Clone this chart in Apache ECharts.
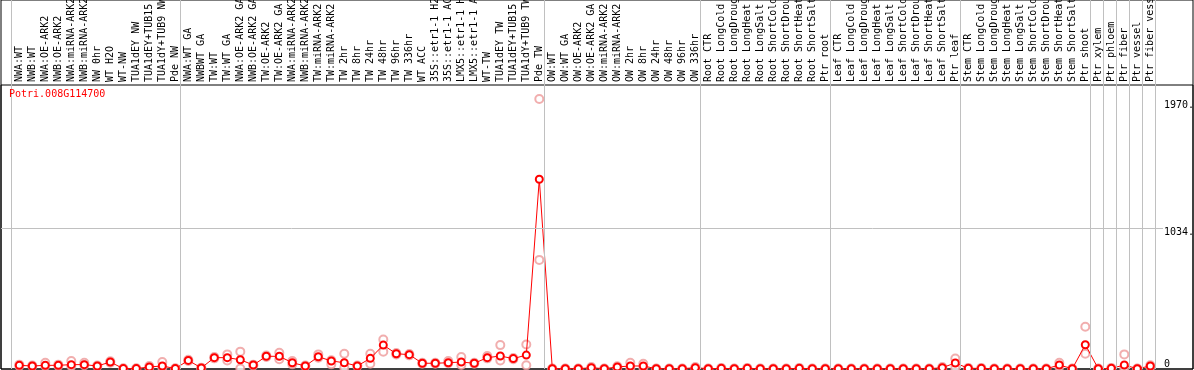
<!DOCTYPE html>
<html>
<head>
<meta charset="utf-8">
<script src="https://cdn.jsdelivr.net/npm/echarts@6/dist/echarts.min.js"></script>
<style>
  html, body { margin: 0; padding: 0; background: #fff; }
  #chart { width: 1194px; height: 370px; }
</style>
</head>
<body>
<div id="chart"></div>
<script>
const geneName = 'Potri.008G114700';

const categories = [
  'NWA:WT', 'NWB:WT', 'NWA:OE-ARK2', 'NWB:OE-ARK2', 'NWA:miRNA-ARK2', 'NWB:miRNA-ARK2',
  'NW 0hr', 'WT H2O', 'WT-NW', 'TUA1dEY NW', 'TUA1dEY+TUB15 NW', 'TUA1dY+TUB9 NW', 'Pde NW',
  'NWA:WT GA', 'NWBWT GA', 'TW:WT', 'TW:WT GA', 'NWA:OE-ARK2 GA', 'NWB:OE-ARK2 GA',
  'TW:OE-ARK2', 'TW:OE-ARK2 GA', 'NWA:miRNA-ARK2', 'NWB:miRNA-ARK2', 'TW:miRNA-ARK2',
  'TW:miRNA-ARK2', 'TW 2hr', 'TW 8hr', 'TW 24hr', 'TW 48hr', 'TW 96hr', 'TW 336hr',
  'WT ACC', '35S::etr1-1 H2O', '35S::etr1-1 ACC', 'LMX5::etr1-1 H2O', 'LMX5::etr1-1 ACC',
  'WT-TW', 'TUA1dEY TW', 'TUA1dEY+TUB15 TW', 'TUA1dY+TUB9 TW', 'Pde TW',
  'OW:WT', 'OW:WT GA', 'OW:OE-ARK2', 'OW:OE-ARK2 GA', 'OW:miRNA-ARK2', 'OW:miRNA-ARK2',
  'OW 2hr', 'OW 8hr', 'OW 24hr', 'OW 48hr', 'OW 96hr', 'OW 336hr',
  'Root CTR', 'Root LongCold', 'Root LongDrought', 'Root LongHeat', 'Root LongSalt',
  'Root ShortCold', 'Root ShortDrought', 'Root ShortHeat', 'Root ShortSalt', 'Ptr root',
  'Leaf CTR', 'Leaf LongCold', 'Leaf LongDrought', 'Leaf LongHeat', 'Leaf LongSalt',
  'Leaf ShortCold', 'Leaf ShortDrought', 'Leaf ShortHeat', 'Leaf ShortSalt', 'Ptr leaf',
  'Stem CTR', 'Stem LongCold', 'Stem LongDrought', 'Stem LongHeat', 'Stem LongSalt',
  'Stem ShortCold', 'Stem ShortDrought', 'Stem ShortHeat', 'Stem ShortSalt', 'Ptr shoot',
  'Ptr xylem', 'Ptr phloem', 'Ptr fiber', 'Ptr vessel', 'Ptr fiber vessel'
];

// mean expression per sample
const meanValues = [
  27, 22, 27, 27, 32, 32, 22, 51, 3, 3, 15, 22, 3,
  63, 8, 83, 83, 68, 29, 93, 93, 46, 22, 90, 59, 46, 22, 78, 175, 112, 105,
  42, 42, 46, 51, 42, 83, 95, 76, 102, 1390,
  2, 2, 2, 10, 2, 15, 22, 22, 2, 2, 2, 10,
  2, 5, 2, 5, 2, 2, 2, 5, 2, 2,
  2, 2, 2, 2, 2, 2, 2, 2, 10, 44,
  5, 5, 2, 2, 2, 2, 2, 29, 2, 178,
  2, 5, 29, 2, 22
];

// replicate measurements (pale circles)
const repHigh = [
  32, 25, 46, 32, 59, 46, 25, 56, 5, 5, 22, 51, 5,
  68, 10, 88, 107, 127, 32, 98, 119, 59, 25, 107, 64, 112, 25, 112, 216, 117, 110,
  46, 46, 59, 88, 46, 95, 175, 80, 180, 1978,
  3, 3, 3, 15, 3, 20, 46, 39, 3, 3, 3, 15,
  3, 8, 3, 8, 3, 3, 3, 8, 3, 3,
  3, 3, 3, 3, 3, 3, 3, 3, 15, 76,
  8, 8, 3, 3, 3, 3, 3, 46, 3, 309,
  3, 8, 107, 3, 27
];
const repLow = [
  22, 20, 22, 22, 20, 27, 20, 46, 2, 2, 10, 10, 2,
  58, 5, 78, 63, 3, 25, 88, 71, 34, 20, 83, 34, 10, 20, 39, 127, 107, 100,
  39, 39, 42, 30, 39, 78, 63, 72, 27, 799,
  1, 1, 1, 5, 1, 10, 5, 10, 1, 1, 1, 5,
  1, 2, 1, 2, 1, 1, 1, 2, 1, 1,
  1, 1, 1, 1, 1, 1, 1, 1, 5, 5,
  2, 2, 1, 1, 1, 1, 1, 15, 1, 112,
  1, 2, 5, 1, 15
];

// last category index of each sample group (-1 = left edge)
const groupEnds = [-1, 12, 40, 52, 62, 72, 82, 83, 84, 85, 86, 87];

const yTickValues = [0, 1034, 1970];
const yTickLabels = ['0', '1034.', '1970.'];

// layout
const FONT = 'DejaVu Sans Mono';
const PITCH = 13;        // px per sample
const FIRST_X = 19.3;    // px of first sample centre
const SEP_OFFSET = 5 / PITCH;
const LABEL_TOP = 85;
const DATA_RIGHT = 1163;
const FRAME_RIGHT = 1193;
const Y_MAX = 2080;

const xMin = (1 - FIRST_X) / PITCH;
const xMaxData = (DATA_RIGHT - FIRST_X) / PITCH;
const xMaxFrame = (FRAME_RIGHT - FIRST_X) / PITCH;

const meanData = meanValues.map((v, i) => [i, v]);
const repData = [];
categories.forEach((_, i) => {
  repData.push([i, repHigh[i]]);
  repData.push([i, repLow[i]]);
});

const labelFor = (v) => {
  const i = yTickValues.indexOf(v);
  return i >= 0 ? yTickLabels[i] : '';
};

const hiddenAxis = (gridIndex, min, max) => ({ gridIndex, type: 'value', min, max, show: false });

const option = {
  animation: false,
  backgroundColor: '#fff',
  title: {
    text: geneName,
    left: 9,
    top: 89,
    padding: 0,
    textStyle: { fontFamily: FONT, fontSize: 10, fontWeight: 'normal', color: '#ff0000' },
  },
  grid: [
    { left: 1, right: 1, top: 0, bottom: 1, show: true, borderColor: '#000', borderWidth: 1, outerBoundsMode: 'none' },
    { left: 1, right: 1, top: LABEL_TOP, bottom: 1, show: true, borderColor: '#000', borderWidth: 1, outerBoundsMode: 'none' },
    { left: 1, right: 1194 - DATA_RIGHT, top: LABEL_TOP, bottom: 1, outerBoundsMode: 'none' },
  ],
  xAxis: [
    hiddenAxis(0, xMin, xMaxFrame),
    hiddenAxis(1, 0, 1),
    {
      gridIndex: 2,
      type: 'value',
      position: 'top',
      min: xMin,
      max: xMaxData,
      axisLine: { show: false },
      axisTick: { show: false },
      splitLine: { show: false },
      axisLabel: {
        customValues: categories.map((_, i) => i),
        formatter: (v) => categories[v] ?? '',
        rotate: 90,
        margin: 3,
        fontFamily: FONT,
        fontSize: 10,
        color: '#000',
      },
    },
  ],
  yAxis: [
    hiddenAxis(0, 0, 1),
    {
      gridIndex: 1,
      type: 'value',
      position: 'right',
      min: 0,
      max: Y_MAX,
      axisLine: { show: false },
      axisTick: { show: false },
      splitLine: { show: false },
      axisLabel: {
        customValues: [yTickValues[0]],
        formatter: labelFor,
        inside: true,
        align: 'left',
        verticalAlign: 'bottom',
        margin: FRAME_RIGHT - DATA_RIGHT - 1,
        fontFamily: FONT,
        fontSize: 10,
        color: '#000',
      },
    },
    {
      gridIndex: 2,
      type: 'value',
      position: 'right',
      min: 0,
      max: Y_MAX,
      axisLine: { show: false },
      axisTick: { show: false },
      splitLine: { show: false },
      axisLabel: {
        customValues: yTickValues.slice(1),
        formatter: labelFor,
        align: 'left',
        verticalAlign: 'top',
        margin: 1,
        fontFamily: FONT,
        fontSize: 10,
        color: '#000',
      },
    },
  ],
  series: [
    {
      type: 'line',
      xAxisIndex: 0,
      yAxisIndex: 0,
      data: [],
      silent: true,
      markLine: {
        silent: true,
        symbol: 'none',
        label: { show: false },
        lineStyle: { color: '#c0c0c0', width: 1, type: 'solid' },
        data: groupEnds.map((k) => ({ xAxis: k + SEP_OFFSET })),
      },
    },
    {
      type: 'scatter',
      xAxisIndex: 2,
      yAxisIndex: 2,
      data: repData,
      symbol: 'emptyCircle',
      symbolSize: 8,
      silent: true,
      itemStyle: { color: '#ee9a9a', borderWidth: 1 },
      z: 2,
      markLine: {
        silent: true,
        symbol: 'none',
        label: { show: false },
        lineStyle: { color: '#c0c0c0', width: 1, type: 'solid' },
        data: [{ yAxis: yTickValues[1] }],
      },
    },
    {
      type: 'line',
      xAxisIndex: 2,
      yAxisIndex: 2,
      data: meanData,
      symbol: 'emptyCircle',
      symbolSize: 7,
      silent: true,
      lineStyle: { color: '#ff0000', width: 1 },
      itemStyle: { color: '#ff0000', borderWidth: 1.6 },
      z: 3,
    },
  ],
};

const chart = echarts.init(document.getElementById('chart'), null, { renderer: 'canvas' });
chart.setOption(option);
</script>
</body>
</html>
